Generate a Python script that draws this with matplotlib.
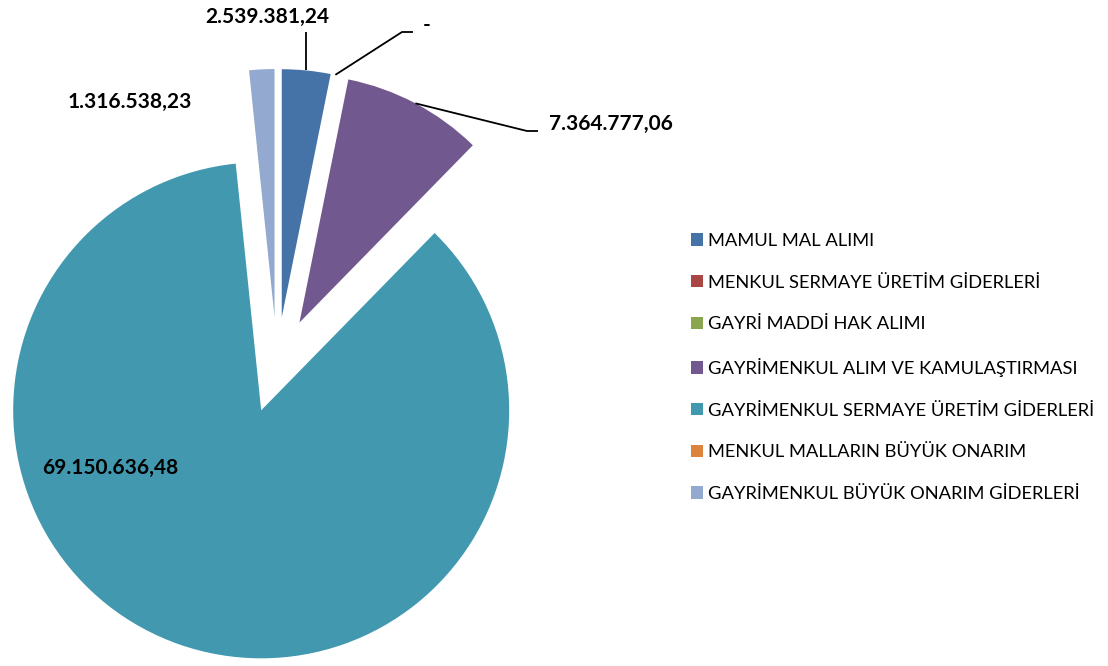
import math
import matplotlib
matplotlib.use("Agg")
import matplotlib.pyplot as plt
from matplotlib.patches import Patch

# ---- data ----
categories = [
    "MAMUL MAL ALIMI",
    "MENKUL SERMAYE ÜRETİM GİDERLERİ",
    "GAYRİ MADDİ HAK ALIMI",
    "GAYRİMENKUL ALIM VE KAMULAŞTIRMASI",
    "GAYRİMENKUL SERMAYE ÜRETİM GİDERLERİ",
    "MENKUL MALLARIN BÜYÜK ONARIM",
    "GAYRİMENKUL BÜYÜK ONARIM GİDERLERİ",
]
values = [2539381.24, 0.0, 0.0, 7364777.06, 69150636.48, 0.0, 1316538.23]

# ---- style ----
colors = ["#4572A7", "#AA4643", "#89A54E", "#71588F", "#4198AF", "#DB843D", "#93A9CF"]
W, H = 1108, 666
CX, CY, R = 277, 365, 248          # pie centre / radius in pixel space
EXPLODE = 48                       # explosion distance (pixels)
FONT = ["Lato", "DejaVu Sans"]


def tr_fmt(v):
    if v == 0:
        return "-"
    s = f"{v:,.2f}"
    return s.replace(",", "X").replace(".", ",").replace("X", ".")


def py(y):
    return H - y


fig = plt.figure(figsize=(W / 100, H / 100), dpi=100)
ax = fig.add_axes([0, 0, 1, 1])

wedges, _ = ax.pie(
    values,
    colors=colors,
    startangle=90,
    counterclock=False,
    radius=R,
    center=(CX, py(CY)),
    explode=[EXPLODE] * len(values),
    wedgeprops=dict(linewidth=0),
    frame=True,
)
ax.set_xlim(0, W)
ax.set_ylim(0, H)
ax.set_aspect("equal")
ax.axis("off")


def arc_point(w):
    ang = math.radians((w.theta1 + w.theta2) / 2)
    cx, cy = w.center
    return cx + w.r * math.cos(ang), cy + w.r * math.sin(ang)


lab_kw = dict(fontsize=15, fontweight="bold", family=FONT, color="black")

# label positions (pixel space): index -> (x, y, ha, elbow points)
label_layout = {
    0: ((267, 17), "center", [(307, 32)]),
    1: ((423, 25), "left", [(413, 32), (402, 32)]),
    3: ((549, 124), "left", [(538, 131), (527, 131)]),
    4: ((42, 468), "left", None),
    6: ((68, 102), "left", None),
}

for i, ((lx, ly), ha, elbow) in label_layout.items():
    ax.text(lx, py(ly), tr_fmt(values[i]), ha=ha, va="center", **lab_kw)
    if elbow is not None:
        ax_, ay_ = arc_point(wedges[i])
        xs = [p[0] for p in elbow] + [ax_]
        ys = [py(p[1]) for p in elbow] + [ay_]
        if i == 0:
            xs = [ax_, ax_]
            ys = [py(32), ay_]
        ax.plot(xs, ys, color="black", lw=1.3, solid_capstyle="butt")

handles = [Patch(facecolor=c, edgecolor="none") for c in colors]
ax.legend(
    handles, categories,
    loc="center left",
    bbox_to_anchor=(691 / W, 1 - 367.5 / H),
    bbox_transform=fig.transFigure,
    frameon=False,
    prop=dict(family=FONT, size=13.2),
    handlelength=0.65, handleheight=0.65, handletextpad=0.3,
    labelspacing=1.4, borderpad=0, borderaxespad=0,
)

fig.savefig("out.png", dpi=100)
